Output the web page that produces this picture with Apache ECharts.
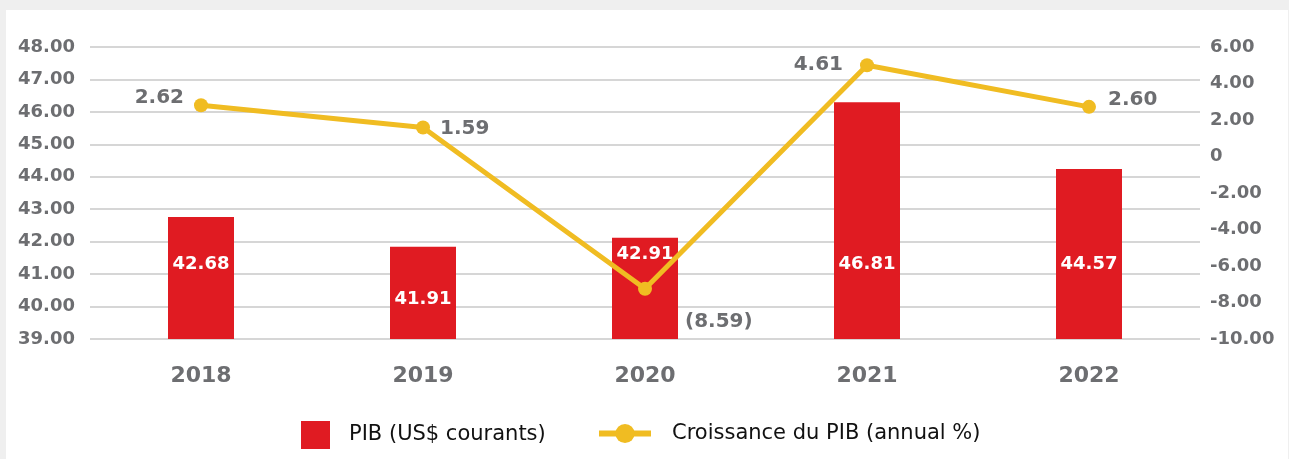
<!DOCTYPE html>
<html>
<head>
<meta charset="utf-8">
<script src="https://cdn.jsdelivr.net/npm/echarts@6/dist/echarts.min.js"></script>
<style>
html,body{margin:0;padding:0;background:#efefef;width:1289px;height:459px;overflow:hidden;}
#panel{position:absolute;left:6px;top:10px;width:1282px;height:449px;background:#ffffff;}
#chart{position:absolute;left:0;top:0;width:1289px;height:459px;}
</style>
</head>
<body>
<div id="panel"></div>
<div id="chart"></div>
<script>
// ---- data ----
const years = ['2018', '2019', '2020', '2021', '2022'];
// bar heights as drawn in the picture (left axis)
const pibValues = [42.76, 41.84, 42.12, 46.30, 44.24];
// data labels printed on the bars
const pibLabels = ['42.68', '41.91', '42.91', '46.81', '44.57'];
// line points as drawn in the picture (right axis)
const growthValues = [2.81, 1.59, -7.25, 5.00, 2.72];
// data labels printed next to the points
const growthLabels = ['2.62', '1.59', '(8.59)', '4.61', '2.60'];
const seriesNames = ['PIB (US$ courants)', 'Croissance du PIB (annual %)'];

// ---- style ----
const FONT = 'DejaVu Sans';
const GRAY = '#6d6e71';
const RED = '#e01b22';
const YELLOW = '#f0bc22';

const barLabelDist = [66, 31, 76, 66, 66];
const lineLabelCfg = [
  {position: 'left', distance: 10, offset: [0, -7]},
  {position: 'right', distance: 10, offset: [0, 1]},
  {position: 'right', distance: 33, offset: [0, 33]},
  {position: 'left', distance: 17, offset: [0, 0]},
  {position: 'right', distance: 12, offset: [0, -7]}
];

const chart = echarts.init(document.getElementById('chart'), null, {renderer: 'canvas'});
chart.setOption({
  backgroundColor: 'transparent',
  animation: false,
  textStyle: {fontFamily: FONT},
  grid: {left: 90, right: 89, top: 47, height: 292, containLabel: false},
  legend: [
    {
      data: [seriesNames[0]], left: 301, top: 421, padding: 0,
      itemWidth: 29, itemHeight: 28, icon: 'rect',
      textStyle: {fontFamily: FONT, fontSize: 21, color: '#111', padding: [0, 0, 0, 14]}
    },
    {
      data: [seriesNames[1]], left: 596, top: 423, padding: 0,
      itemWidth: 52, itemHeight: 24,
      lineStyle: {width: 6},
      textStyle: {fontFamily: FONT, fontSize: 21, color: '#111', padding: [0, 0, 0, 16]}
    }
  ],
  xAxis: {
    type: 'category', data: years,
    axisLine: {show: false}, axisTick: {show: false},
    axisLabel: {color: GRAY, fontSize: 22, fontWeight: 'bold', fontFamily: FONT, margin: 26}
  },
  yAxis: [
    {
      type: 'value', min: 39, max: 48, interval: 1,
      axisLine: {show: false}, axisTick: {show: false},
      splitLine: {lineStyle: {color: '#c8c8c8', width: 1.5}},
      axisLabel: {color: GRAY, fontSize: 18, fontWeight: 'bold', fontFamily: FONT, margin: 15,
        formatter: v => v.toFixed(2)}
    },
    {
      type: 'value', min: -10, max: 6, interval: 2, position: 'right',
      axisLine: {show: false}, axisTick: {show: false}, splitLine: {show: false},
      axisLabel: {color: GRAY, fontSize: 18, fontWeight: 'bold', fontFamily: FONT, margin: 10,
        formatter: v => v === 0 ? '0' : v.toFixed(2)}
    }
  ],
  series: [
    {
      name: seriesNames[0], type: 'bar', yAxisIndex: 0, barWidth: 66,
      itemStyle: {color: RED},
      data: pibValues.map((v, i) => ({
        value: v,
        label: {show: true, position: 'insideBottom', distance: barLabelDist[i],
          formatter: () => pibLabels[i], color: '#ffffff', fontSize: 18, fontWeight: 'bold', fontFamily: FONT}
      }))
    },
    {
      name: seriesNames[1], type: 'line', yAxisIndex: 1,
      symbol: 'circle', symbolSize: 14,
      lineStyle: {color: YELLOW, width: 5},
      itemStyle: {color: YELLOW},
      data: growthValues.map((v, i) => ({
        value: v,
        label: Object.assign({show: true, formatter: () => growthLabels[i],
          color: GRAY, fontSize: 20, fontWeight: 'bold', fontFamily: FONT}, lineLabelCfg[i])
      }))
    }
  ]
});
</script>
</body>
</html>
